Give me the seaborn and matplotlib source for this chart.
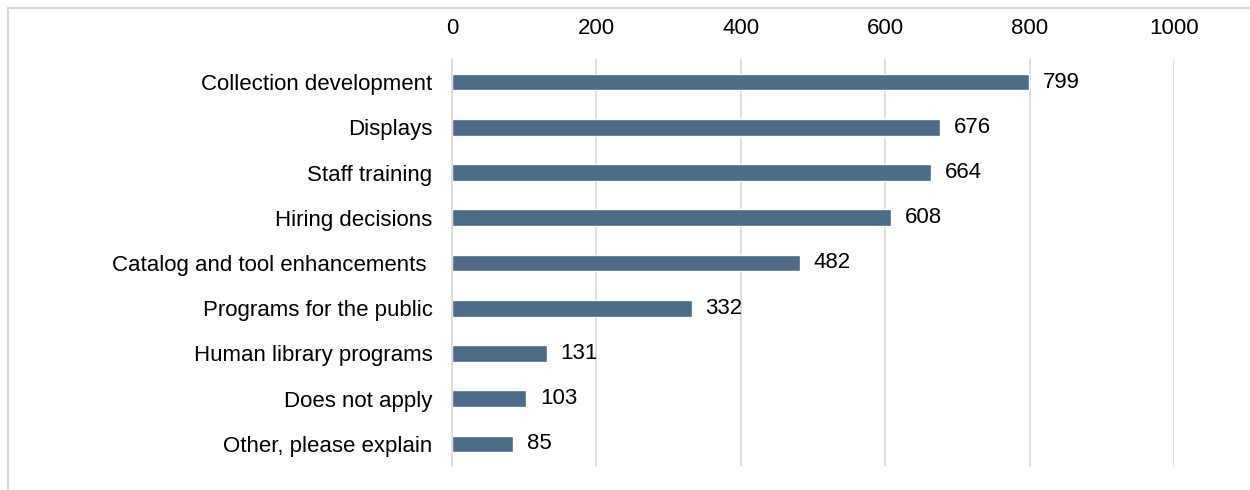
import matplotlib
matplotlib.use('Agg')
import matplotlib.pyplot as plt
import seaborn as sns
import pandas as pd

categories = ['Collection development', 'Displays', 'Staff training', 'Hiring decisions',
              'Catalog and tool enhancements ', 'Programs for the public',
              'Human library programs', 'Does not apply', 'Other, please explain']
counts = [799, 676, 664, 608, 482, 332, 131, 103, 85]
ticks = [0, 200, 400, 600, 800, 1000]

df = pd.DataFrame({'category': categories, 'count': counts})

sns.set_style('white')
plt.rcParams['font.family'] = ['Liberation Sans', 'DejaVu Sans']

fig = plt.figure(figsize=(12.5, 4.9), dpi=100)
ax = fig.add_axes([0.3616, 0.048, 0.5776, 0.8306])

sns.barplot(data=df, x='count', y='category', color='#4e6b87', width=0.37,
            saturation=1, ax=ax)

ax.set_xlim(0, 1000)
ax.set_xticks(ticks)
ax.xaxis.tick_top()
ax.tick_params(axis='x', length=0, pad=15, labelsize=16, colors='#000000')
ax.tick_params(axis='y', length=0, pad=14, labelsize=16, colors='#000000')
ax.grid(axis='x', color='#d9d9d9', linewidth=1.2)
ax.set_axisbelow(True)
for s in ['top', 'right', 'bottom']:
    ax.spines[s].set_visible(False)
ax.spines['left'].set_color('#d9d9d9')
ax.spines['left'].set_linewidth(1.2)
ax.set_xlabel('')
ax.set_ylabel('')

ax.bar_label(ax.containers[0], padding=10, fontsize=16, color='#000000')

# outer chart border (top and left edges visible)
fig.patches.append(plt.Rectangle((8 / 1250, -0.1), 1.2, 1 - 8 / 490 + 0.1,
                                 transform=fig.transFigure, fill=False,
                                 edgecolor='#d9d9d9', linewidth=1.5))

fig.savefig('out.png', dpi=100)
